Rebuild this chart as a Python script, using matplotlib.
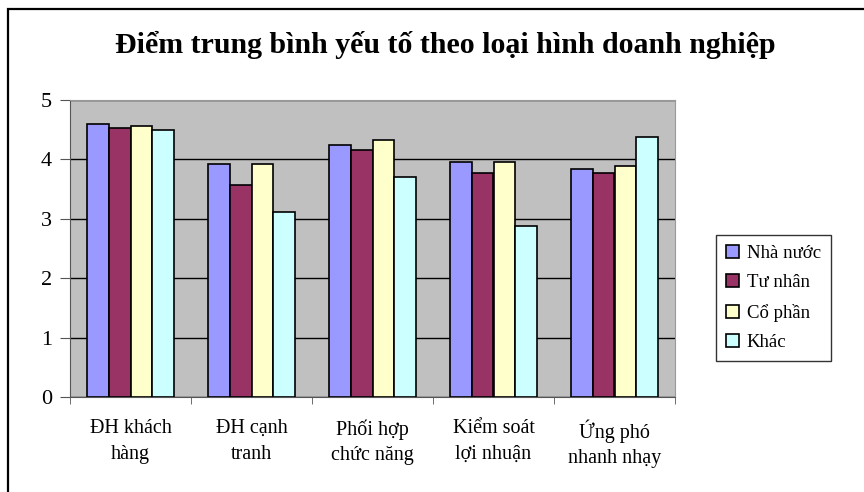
import matplotlib
matplotlib.use('Agg')
import matplotlib.pyplot as plt
import numpy as np
from matplotlib.patches import Rectangle

categories = ['ĐH khách\nhàng', 'ĐH cạnh\ntranh', 'Phối hợp\nchức năng',
              'Kiểm soát\nlợi nhuận', 'Ứng phó\nnhanh nhạy']
series = ['Nhà nước', 'Tư nhân', 'Cổ phần', 'Khác']
nha_nuoc = [4.60, 3.92, 4.24, 3.95, 3.83]
tu_nhan = [4.53, 3.57, 4.16, 3.77, 3.77]
co_phan = [4.56, 3.92, 4.33, 3.95, 3.89]
khac = [4.50, 3.11, 3.71, 2.88, 4.38]
colors = ['#9999FF', '#993366', '#FFFFCC', '#CCFFFF']

plt.rcParams['font.family'] = ['Liberation Serif', 'DejaVu Serif']

fig = plt.figure(figsize=(8.64, 4.92), dpi=100)
ax = fig.add_axes([70 / 864, 1 - 397 / 492, 605 / 864, 297 / 492])
ax.set_facecolor('#C0C0C0')

x = np.arange(len(categories))
w = 0.179
for i, (vals, name) in enumerate(zip([nha_nuoc, tu_nhan, co_phan, khac], series)):
    ax.bar(x + (i - 1.5) * w, vals, w, color=colors[i], edgecolor='black',
           linewidth=1.2, label=name, zorder=3)

ax.set_xlim(-0.5, 4.5)
ax.set_ylim(0, 5)
ax.set_yticks(range(6))
ax.grid(axis='y', color='black', linewidth=1, zorder=1)
ax.set_xticks(x)
ax.set_xticklabels(categories, fontsize=14.5, linespacing=1.45)
ax.set_xticks(np.arange(-0.5, 5, 1), minor=True)
ax.tick_params(axis='x', which='major', length=0, pad=16)
ax.tick_params(axis='x', which='minor', length=5, color='#555555')
ax.tick_params(axis='y', length=7, labelsize=16, pad=6, color='#555555')
for s in ['top', 'right']:
    ax.spines[s].set_color('#999999')
for s in ['left', 'bottom']:
    ax.spines[s].set_color('#555555')

fig.text(445 / 864, 1 - 45 / 492, 'Điểm trung bình yếu tố theo loại hình doanh nghiệp',
         ha='center', va='center', fontsize=21.5, fontweight='bold')

leg = ax.legend(loc='center left', bbox_to_anchor=(716 / 864, 1 - 298 / 492),
                bbox_transform=fig.transFigure, fontsize=13.5, frameon=True,
                fancybox=False, edgecolor='black', handlelength=0.7,
                handleheight=0.7, handletextpad=0.4, labelspacing=0.65,
                borderpad=0.55, borderaxespad=0)
leg.get_frame().set_linewidth(1)

fig.patches.append(Rectangle((8 / 864, -0.1), 1.2, 1.1 - 9 / 492,
                             transform=fig.transFigure, fill=False,
                             edgecolor='black', linewidth=1.6))

fig.savefig('out.png', dpi=100)
